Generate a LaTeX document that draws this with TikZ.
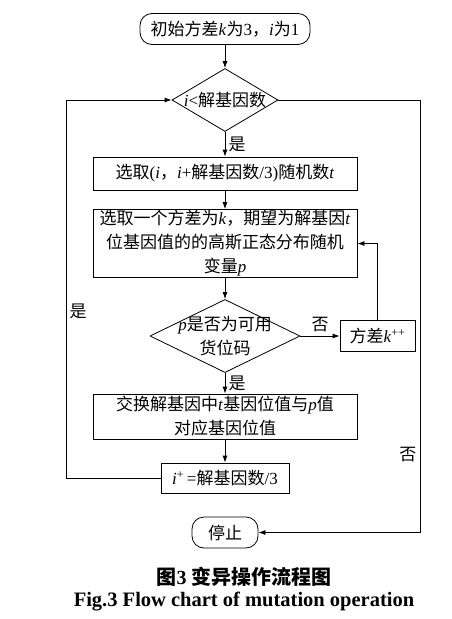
\documentclass[tikz,border=0pt]{standalone}
\usepackage{fontspec}
\setmainfont{Liberation Serif}
\newfontfamily\cjk{Noto Sans CJK SC}
\newcommand{\zh}[1]{{\cjk #1}}
\usetikzlibrary{arrows.meta,shapes.geometric}

\begin{document}
\begin{tikzpicture}[x=1pt,y=-1pt,line width=0.8pt,
every node/.style={font=\fontsize{17}{24}\selectfont},
procbox/.style={draw,rectangle,minimum width=264pt,minimum height=33pt,align=center,inner sep=1pt},
termbox/.style={draw,rounded corners=12pt,minimum height=31pt,inner sep=3pt},
decbox/.style={draw,diamond,inner sep=-15pt,align=center},
flow/.style={-{Latex[length=7pt,width=5pt]}}]
\useasboundingbox (0,0) rectangle (451,619);
\node[termbox,minimum width=170pt] (S) at (225,29) {\zh{初始方差}\textit{k}\zh{为}3\zh{，}\textit{i}\zh{为}1};
\node[decbox,minimum width=106pt,minimum height=63pt] (D1) at (225,100) {\textit{i}<\zh{解基因数}};
\node[procbox] (B2) at (225,173.5) {\zh{选取}(\textit{i}\zh{，}\textit{i}+\zh{解基因数}/3)\zh{随机数}\textit{t}};
\node[procbox,minimum height=67pt] (B3) at (225,243.5) {\zh{选取一个方差为}\textit{k}\zh{，期望为解基因}\textit{t}\\
  \zh{位基因值的的高斯正态分布随机}\\ \zh{变量}\textit{p}};
\node[decbox,minimum width=150pt,minimum height=66pt] (D2) at (225,336) {\textit{p}\zh{是否为可用}\\ \zh{货位码}};
\node[procbox,minimum width=75pt,minimum height=31pt] (K) at (377.5,336) {\zh{方差}\textit{k}\textsuperscript{++}};
\node[procbox,minimum height=45pt] (B5) at (225,416.5) {\zh{交换解基因中}\textit{t}\zh{基因位值与}\textit{p}\zh{值}\\ \zh{对应基因位值}};
\node[procbox,minimum width=128pt,minimum height=30pt] (B6) at (225,478) {\textit{i}\textsuperscript{+}\,=\zh{解基因数}/3};
\node[termbox,minimum width=66pt] (E) at (225,532.5) {\zh{停止}};
\coordinate (LP) at (66,100);
\coordinate (RP) at (420,532.5);
% connectors
\draw[flow] (S) -- (D1);
\draw[flow] (D1) -- node[right]{\zh{是}} (B2);
\draw[flow] (B2) -- (B3);
\draw[flow] (B3) -- (D2);
\draw[flow] (D2) -- node[above]{\zh{否}} (K);
\draw[flow] (K.north) |- (B3.east);
\draw[flow] (D2) -- node[right]{\zh{是}} (B5);
\draw[flow] (B5) -- (B6);
\draw[flow] (B6.west) -| node[right,pos=0.72]{\zh{是}} (LP) -- (D1.west);
\draw[flow] (D1.east) -| node[left,pos=0.91]{\zh{否}} (RP) -- (E.east);
% caption
\node[font=\fontsize{20}{24}\selectfont\bfseries] (C1) at (244,577) {\zh{图}3 \zh{变异操作流程图}};
\node[font=\fontsize{20.5}{24}\selectfont\bfseries] (C2) at (244,602) {Fig.3 Flow chart of mutation operation};
\end{tikzpicture}
\end{document}
